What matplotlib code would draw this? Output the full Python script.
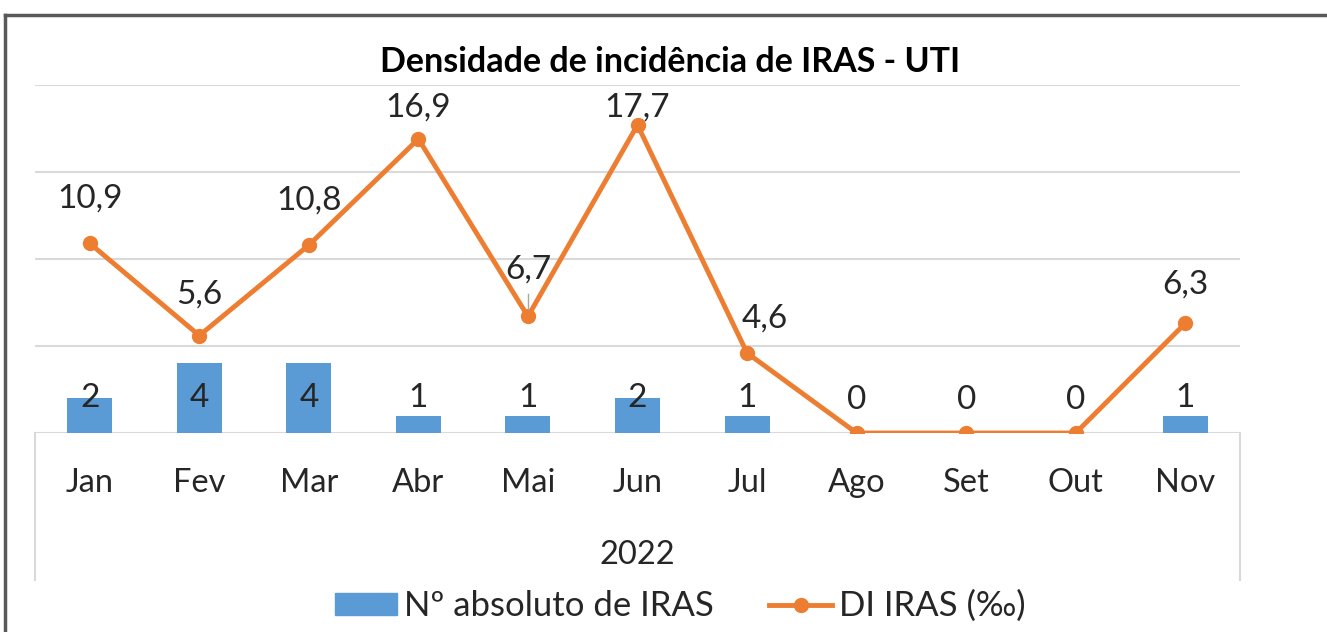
import numpy as np
import matplotlib.pyplot as plt
from matplotlib.lines import Line2D
from matplotlib.patches import Patch

plt.rcParams['font.family'] = ['Lato', 'DejaVu Sans']

meses = ["Jan", "Fev", "Mar", "Abr", "Mai", "Jun", "Jul", "Ago", "Set", "Out", "Nov"]
n_iras = [2, 4, 4, 1, 1, 2, 1, 0, 0, 0, 1]
di_iras = [10.9, 5.6, 10.8, 16.9, 6.7, 17.7, 4.6, 0, 0, 0, 6.3]
ano = "2022"

# deslocamento dos rótulos da linha (pixels)
offs = [(0, 45), (0, 41), (0, 45), (0, 31), (0, 47), (0, 17), (18, 34), (0, 33), (0, 33), (0, 33), (0, 39)]

AZUL = "#5B9BD5"
LARANJA = "#ED7D31"
TXT = "#262626"
W, H = 1327, 632

fig = plt.figure(figsize=(W / 100, H / 100), dpi=100)
ax = fig.add_axes([35 / W, 1 - 433 / H, 1205 / W, 348 / H])

x = np.arange(len(meses))
ax.bar(x, n_iras, width=0.41, color=AZUL, zorder=2)
ax.plot(x, di_iras, color=LARANJA, lw=3.5, marker="o", ms=10, zorder=3)

ax.set_xlim(-0.5, len(meses) - 0.5)
ax.set_ylim(0, 20)
for v in [0, 5, 10, 15, 20]:
    ax.axhline(v, color="#D9D9D9", lw=1.5, zorder=1)
for s in ax.spines.values():
    s.set_visible(False)
ax.set_yticks([])
ax.set_xticks([])

# rótulos das barras
for i, v in enumerate(n_iras):
    if di_iras[i] == 0:
        continue
    ax.annotate(str(v), (i, 0), xytext=(0, 35), textcoords="offset pixels",
                ha="center", va="center", fontsize=24, color=TXT, zorder=4)

# rótulos da linha
for i, v in enumerate(di_iras):
    lab = f"{v:g}".replace(".", ",")
    dx, dy = offs[i]
    ax.annotate(lab, (i, v), xytext=(dx, dy), textcoords="offset pixels",
                ha="center", va="center", fontsize=24, color=TXT, zorder=4)
ax.plot([4, 4], [di_iras[4] + 0.45, di_iras[4] + 1.3], color="#A6A6A6", lw=1, zorder=4)

# eixo de categorias em dois níveis
for i, m in enumerate(meses):
    ax.text(i, -50 / 17.4, m, ha="center", va="center", fontsize=23.5, color=TXT)
ax.text((len(meses) - 1) / 2, -122 / 17.4, ano, ha="center", va="center", fontsize=23.5, color=TXT)
for xv in [-0.5, len(meses) - 0.5]:
    ax.plot([xv, xv], [0, -147 / 17.4], color="#D9D9D9", lw=1.5, clip_on=False)

fig.text(670 / W, 1 - 62 / H, "Densidade de incidência de IRAS - UTI",
         ha="center", va="center", fontsize=24.5, fontweight="bold", color="#000000")

handles = [Patch(color=AZUL),
           Line2D([], [], color=LARANJA, lw=3.5, marker="o", ms=10)]
fig.legend(handles, ["Nº absoluto de IRAS", "DI IRAS (‰)"], loc="center",
           bbox_to_anchor=(0.5 * (338 + 1022) / W, 1 - 606 / H), ncol=2, frameon=False,
           fontsize=25, handlelength=1.8, handleheight=0.6, handletextpad=0.2,
           columnspacing=1.6, labelcolor=TXT)

# moldura externa (só topo e esquerda visíveis)
fig.add_artist(Line2D([5 / W, 1.02], [1 - 15 / H, 1 - 15 / H], transform=fig.transFigure,
                      color="#595959", lw=2.5))
fig.add_artist(Line2D([5 / W, 5 / W], [-0.02, 1 - 15 / H], transform=fig.transFigure,
                      color="#595959", lw=2.5))

fig.savefig("out.png", dpi=100)
